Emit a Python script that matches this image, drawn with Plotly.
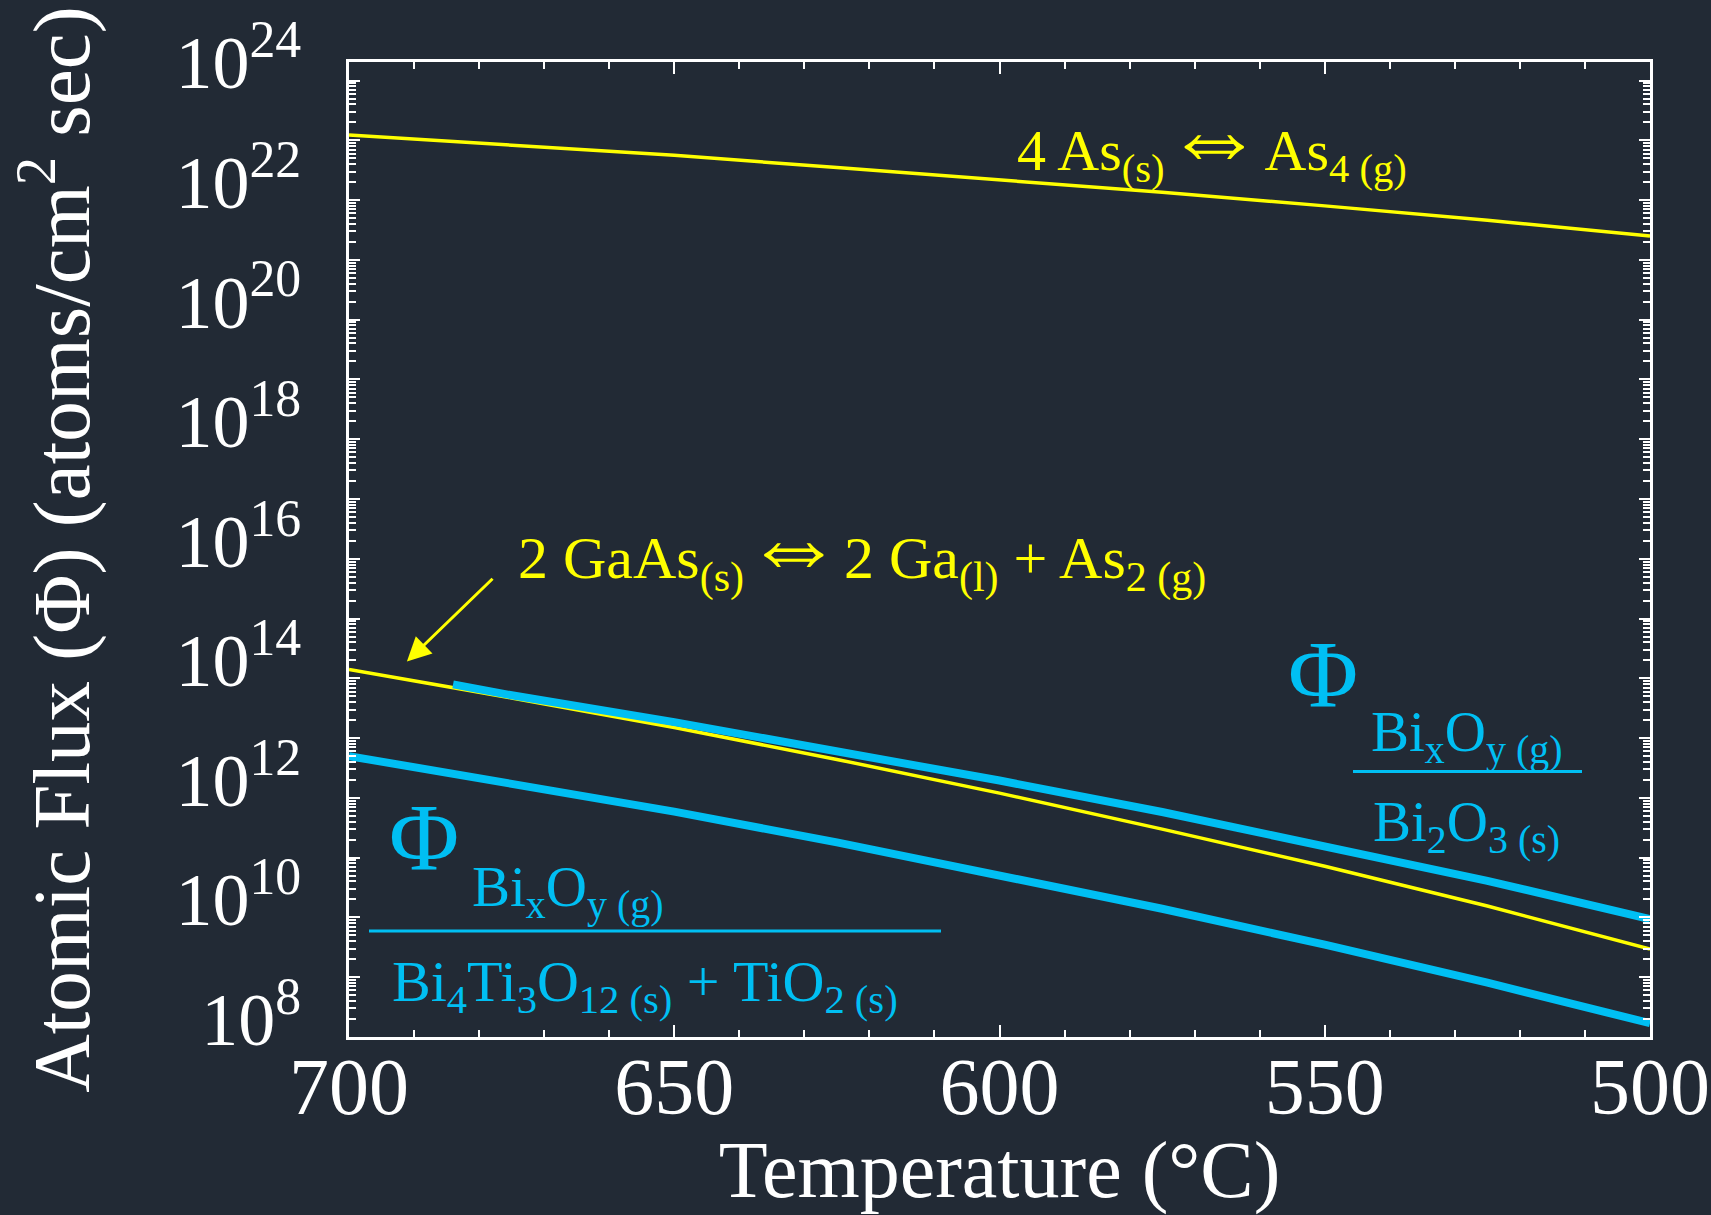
import plotly.graph_objects as go

# ---------------- data ----------------
temp_c = [700, 675, 650, 625, 600, 575, 550, 525, 500]
flux_as4 = [1.23e23, 8.3e22, 5.6e22, 3.5e22, 2.2e22, 1.35e22, 8.0e21, 4.6e21, 2.5e21]
flux_gaas_as2 = [1.4e14, 4.7e13, 1.5e13, 4.4e12, 1.2e12, 3.0e11, 7.2e10, 1.55e10, 2.95e9]

temp_bi2o3 = [684, 675, 650, 625, 600, 575, 550, 525, 500]
flux_bi2o3 = [7.9e13, 5.2e13, 1.85e13, 6.2e12, 1.95e12, 5.8e11, 1.6e11, 4.1e10, 9.4e9]

flux_bit = [5.0e12, 1.75e12, 5.9e11, 1.8e11, 5.2e10, 1.4e10, 3.5e9, 8.1e8, 1.7e8]

y_exponents = list(range(8, 25))

# ---------------- style ----------------
BG = "#222a35"
WHITE = "#ffffff"
YEL = "#ffff00"
BLUE = "#00bff3"
FONT = "Liberation Serif, Times New Roman, serif"

W, H = 1711, 1215
L, R, T, B = 349, 1650, 62, 1037


def paper(px, py):
    return (px - L) / (R - L), (B - py) / (B - T)


fig = go.Figure()
fig.add_trace(go.Scatter(x=temp_c, y=flux_as4, mode="lines",
                         line=dict(color=YEL, width=3.5), showlegend=False))
fig.add_trace(go.Scatter(x=temp_c, y=flux_gaas_as2, mode="lines",
                         line=dict(color=YEL, width=3.5), showlegend=False))
fig.add_trace(go.Scatter(x=temp_bi2o3, y=flux_bi2o3, mode="lines",
                         line=dict(color=BLUE, width=8), showlegend=False))
fig.add_trace(go.Scatter(x=temp_c, y=flux_bit, mode="lines",
                         line=dict(color=BLUE, width=8), showlegend=False))

tickvals = [10.0 ** n for n in y_exponents]
ticktext = ["10<sup>%d</sup>" % n if n % 2 == 0 else "" for n in y_exponents]
minor_vals = [m * 10.0 ** n for n in y_exponents[:-1] for m in range(2, 10)]

fig.update_layout(
    width=W, height=H,
    margin=dict(l=L, r=W - R, t=T, b=H - B, autoexpand=False),
    paper_bgcolor=BG, plot_bgcolor=BG,
    font=dict(family=FONT, color=WHITE),
    showlegend=False,
)

fig.update_xaxes(
    range=[700, 500], showgrid=False, zeroline=False,
    showline=True, linecolor=WHITE, linewidth=3, mirror="ticks",
    ticks="inside", ticklen=12, tickwidth=2, tickcolor=WHITE,
    tickmode="linear", tick0=500, dtick=50,
    tickfont=dict(family=FONT, size=80, color=WHITE),
    ticklabelstandoff=-22,
    minor=dict(dtick=10, ticks="inside", ticklen=7, tickwidth=2, tickcolor=WHITE, showgrid=False),
    title=dict(text="Temperature (°C)", font=dict(family=FONT, size=80, color=WHITE), standoff=22),
    automargin=False,
)

fig.update_yaxes(
    type="log", range=[8, 24.31], showgrid=False, zeroline=False,
    showline=True, linecolor=WHITE, linewidth=3, mirror="ticks",
    ticks="inside", ticklen=11, tickwidth=2, tickcolor=WHITE,
    tickmode="array", tickvals=tickvals, ticktext=ticktext,
    tickfont=dict(family=FONT, size=74, color=WHITE),
    ticklabelstandoff=30, ticklabelshift=-18,
    minor=dict(tickmode="array", tickvals=minor_vals, ticks="inside", ticklen=7,
               tickwidth=2, tickcolor=WHITE, showgrid=False),
    title=dict(text="Atomic Flux (Φ) (atoms/cm<sup>2</sup> sec)",
               font=dict(family=FONT, size=81, color=WHITE), standoff=60),
    automargin=False,
)

annotations = []


def add_text(text, px, py, size, color):
    xp, yp = paper(px, py)
    annotations.append(dict(text=text, x=xp, y=yp, xref="paper", yref="paper",
                            xanchor="center", yanchor="middle", showarrow=False,
                            font=dict(family=FONT, size=size, color=color)))


ARROW = '<span style="font-size:100px">\u21d4</span>'
add_text("4 As<sub>(s)</sub>" + ARROW + "As<sub>4 (g)</sub>", 1212, 137, 58, YEL)
add_text("2 GaAs<sub>(s)</sub>" + ARROW + "2 Ga<sub>(l)</sub> + As<sub>2 (g)</sub>", 862, 545, 60, YEL)

# arrow pointing to the GaAs line
annotations.append(dict(text="", x=691.1, y=14.28, ax=677.7, ay=15.69,
                        xref="x", yref="y", axref="x", ayref="y",
                        showarrow=True, arrowhead=2, arrowsize=1.6, arrowwidth=3,
                        arrowcolor=YEL))

add_text("\u03a6", 1323, 674, 96, BLUE)
add_text("Bi<sub>x</sub>O<sub>y (g)</sub>", 1466, 736, 57, BLUE)
add_text("Bi<sub>2</sub>O<sub>3 (s)</sub>", 1466, 826, 57, BLUE)

add_text("\u03a6", 424, 837, 96, BLUE)
add_text("Bi<sub>x</sub>O<sub>y (g)</sub>", 567, 891, 57, BLUE)
add_text("Bi<sub>4</sub>Ti<sub>3</sub>O<sub>12 (s)</sub> + TiO<sub>2 (s)</sub>", 645, 985, 58, BLUE)

fig.update_layout(annotations=annotations)

shapes = []
for x0, x1, yy in [(1353, 1582, 771.5), (369, 941, 931)]:
    a0, b0 = paper(x0, yy)
    a1, _ = paper(x1, yy)
    shapes.append(dict(type="line", xref="paper", yref="paper", x0=a0, x1=a1, y0=b0, y1=b0,
                       line=dict(color=BLUE, width=3)))
fig.update_layout(shapes=shapes)

fig.write_html("out.html")
